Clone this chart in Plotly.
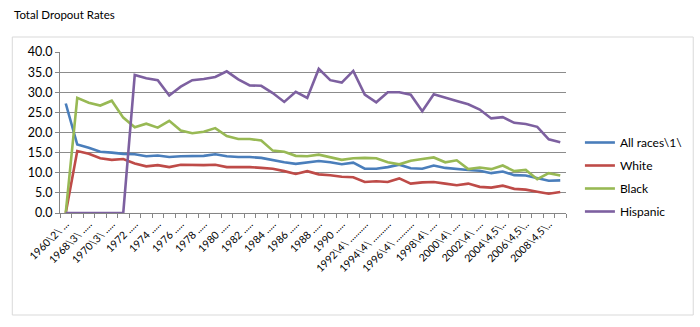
import plotly.graph_objects as go

categories = (["1960\\2\\", "1967\\3\\", "1968\\3\\", "1969\\3\\", "1970\\3\\", "1971\\3\\"]
              + [str(y) for y in range(1972, 1992)]
              + [f"{y}\\4\\" for y in range(1992, 2004)]
              + [f"{y}\\4,5\\" for y in range(2004, 2010)])

tick_labels = ["1960\\2\\ ...", "1968\\3\\ .....", "1970\\3\\ .....",
               "1972 .....", "1974 .....", "1976 .....", "1978 .....", "1980 .....",
               "1982 .....", "1984 .....", "1986 .....", "1988 .....", "1990 .....",
               "1992\\4\\ ..........", "1994\\4\\ ..........", "1996\\4\\ ..........",
               "1998\\4\\ ....", "2000\\4\\ ....", "2002\\4\\ ....",
               "2004\\4,5\\..", "2006\\4,5\\..", "2008\\4,5\\.."]

all_races = [27.2, 17.0, 16.2, 15.2, 15.0, 14.7, 14.6, 14.1, 14.3, 13.9, 14.1, 14.1, 14.2, 14.6,
             14.1, 13.9, 13.9, 13.7, 13.1, 12.6, 12.2, 12.6, 12.9, 12.6, 12.1, 12.5, 11.0, 11.0,
             11.4, 12.0, 11.1, 11.0, 11.8, 11.2, 10.9, 10.7, 10.5, 9.9, 10.3, 9.4, 9.3, 8.7, 8.0, 8.1]
white = [0.0, 15.4, 14.7, 13.6, 13.2, 13.4, 12.3, 11.6, 11.9, 11.4, 12.0, 11.9, 11.9, 12.0,
         11.4, 11.4, 11.4, 11.2, 11.0, 10.4, 9.7, 10.4, 9.6, 9.4, 9.0, 8.9, 7.7, 7.9,
         7.7, 8.6, 7.3, 7.6, 7.7, 7.3, 6.9, 7.3, 6.5, 6.3, 6.8, 6.0, 5.8, 5.3, 4.8, 5.2]
black = [0.0, 28.6, 27.4, 26.7, 27.9, 23.7, 21.3, 22.2, 21.2, 22.9, 20.5, 19.8, 20.2, 21.1,
         19.1, 18.4, 18.4, 18.0, 15.5, 15.2, 14.2, 14.1, 14.5, 13.9, 13.2, 13.6, 13.7, 13.6,
         12.6, 12.1, 13.0, 13.4, 13.8, 12.6, 13.1, 10.9, 11.3, 10.9, 11.8, 10.4, 10.7, 8.4, 9.9, 9.3]
hispanic = [0.0, 0.0, 0.0, 0.0, 0.0, 0.0, 34.3, 33.5, 33.0, 29.2, 31.4, 33.0, 33.3, 33.8,
            35.2, 33.2, 31.7, 31.6, 29.8, 27.6, 30.1, 28.6, 35.8, 33.0, 32.4, 35.3, 29.4, 27.5,
            30.0, 30.0, 29.4, 25.3, 29.5, 28.6, 27.8, 27.0, 25.7, 23.5, 23.8, 22.4, 22.1, 21.4, 18.3, 17.6]

series = [("All races\\1\\", all_races, "#4a7ebb"),
          ("White", white, "#be4b48"),
          ("Black", black, "#98b954"),
          ("Hispanic", hispanic, "#7d60a0")]

FONT = "Lato, 'Open Sans', sans-serif"

fig = go.Figure()
for i, (name, vals, color) in enumerate(series):
    fig.add_trace(go.Scatter(x=categories, y=vals, name=name, mode="lines",
                             line=dict(color=color, width=2.6), legendgroup=str(i)))

# invisible trace to carry boundary tick marks
fig.add_trace(go.Scatter(x=[-0.5, len(categories) - 0.5], y=[0, 0], xaxis="x2",
                         mode="lines", line=dict(width=0), showlegend=False, hoverinfo="skip"))

L, R, T, B = 60, 569, 52, 213
W, H = 700, 327
pw, ph = R - L, B - T

fig.update_layout(
    width=W, height=H,
    margin=dict(l=L, r=W - R, t=T, b=H - B),
    paper_bgcolor="white", plot_bgcolor="white",
    font=dict(family=FONT, color="#000000"),
    showlegend=True,
    legend=dict(x=(583 - L) / pw, y=(B - 177) / ph, xanchor="left", yanchor="middle",
                font=dict(size=12, family=FONT), tracegroupgap=4,
                bgcolor="rgba(0,0,0,0)"),
    xaxis=dict(type="category", categoryorder="array", categoryarray=categories,
               range=[-0.5, len(categories) - 0.5],
               tickmode="array", tickvals=categories[::2], ticktext=tick_labels,
               tickangle=-45, tickfont=dict(size=10.5, family=FONT), ticks="",
               showgrid=False, showline=True, linecolor="#868686", linewidth=1,
               zeroline=False),
    xaxis2=dict(overlaying="x", range=[-0.5, len(categories) - 0.5], tick0=-0.5, dtick=1,
                ticks="outside", ticklen=4, tickcolor="#868686", showticklabels=False,
                showgrid=False, zeroline=False, showline=False, side="bottom", anchor="y"),
    yaxis=dict(range=[0, 40], dtick=5, tickformat=".1f", showgrid=True,
               gridcolor="#8c8c8c", gridwidth=1, showline=True, linecolor="#868686",
               ticks="outside", ticklen=4, tickcolor="#868686",
               tickfont=dict(size=12.5, family=FONT), zeroline=False),
)

# chart area border
fig.add_shape(type="rect", xref="paper", yref="paper",
              x0=(12 - L) / pw, x1=(697 - L) / pw,
              y0=(B - 315) / ph, y1=(B - 37) / ph,
              line=dict(color="#d9d9d9", width=1), fillcolor="rgba(0,0,0,0)", layer="below")

fig.add_annotation(text="Total Dropout Rates", xref="paper", yref="paper",
                   x=(12 - L) / pw, y=(B - 15) / ph, xanchor="left", yanchor="middle",
                   showarrow=False, font=dict(size=11.5, family=FONT, color="#000000"))

fig.write_html("out.html")
